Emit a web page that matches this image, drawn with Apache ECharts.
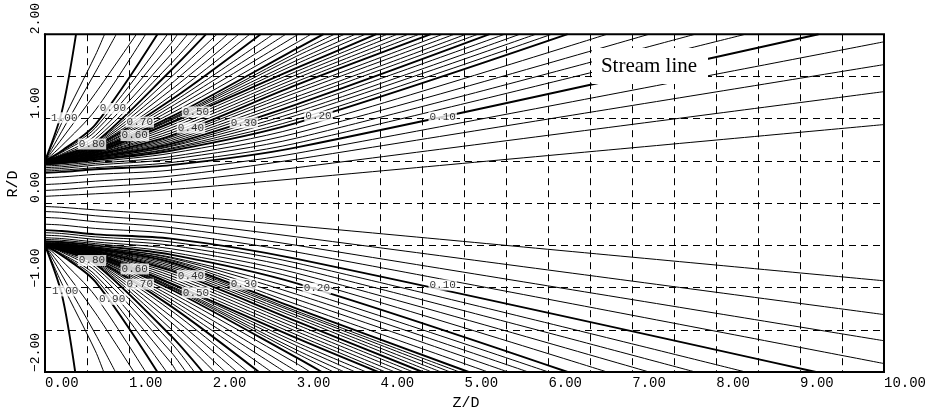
<!DOCTYPE html>
<html>
<head>
<meta charset="utf-8">
<script src="https://cdn.jsdelivr.net/npm/echarts@6/dist/echarts.min.js"></script>
<style>
  html, body { margin: 0; padding: 0; background: #fff; }
  #main { width: 929px; height: 412px; }
</style>
</head>
<body>
<div id="main"></div>
<script>
// stream function value of each line, top (1.00) to the axis (0.02)
const psiLevels = [1.00, 0.98, 0.96, 0.94, 0.92, 0.90, 0.88, 0.86, 0.84, 0.82,
  0.80, 0.78, 0.76, 0.74, 0.72, 0.70, 0.68, 0.66, 0.64, 0.62,
  0.60, 0.58, 0.56, 0.54, 0.52, 0.50, 0.48, 0.46, 0.44, 0.42,
  0.40, 0.38, 0.36, 0.34, 0.32, 0.30, 0.28, 0.26, 0.24, 0.22,
  0.20, 0.18, 0.16, 0.14, 0.12, 0.10, 0.08, 0.06, 0.04, 0.02];

// R/D read at Z/D = 0, 0.2, 0.6, 1.5, 3.0 (null once the line has left the frame)
const stations = [0, 0.2, 0.6, 1.5, 3.0];

// upper half
const upperR0 = [0.50, 0.50, 0.50, 0.50, 0.50, 0.50, 0.50, 0.50, 0.50, 0.50,
  0.50, 0.50, 0.50, 0.50, 0.50, 0.50, 0.50, 0.50, 0.50, 0.50,
  0.50, 0.50, 0.50, 0.50, 0.50, 0.50, 0.50, 0.50, 0.50, 0.50,
  0.49, 0.49, 0.49, 0.49, 0.48, 0.48, 0.48, 0.47, 0.47, 0.46,
  0.46, 0.44, 0.42, 0.40, 0.38, 0.36, 0.30, 0.22, 0.15, 0.08];
const upperR02 = [1.08, 0.95, 0.85, 0.76, 0.68, 0.62, 0.61, 0.60, 0.58, 0.57,
  0.56, 0.56, 0.55, 0.55, 0.54, 0.54, 0.54, 0.53, 0.53, 0.52,
  0.52, 0.52, 0.52, 0.51, 0.51, 0.51, 0.51, 0.51, 0.50, 0.50,
  0.50, 0.50, 0.50, 0.49, 0.49, 0.49, 0.49, 0.48, 0.48, 0.47,
  0.47, 0.45, 0.43, 0.41, 0.39, 0.37, 0.31, 0.23, 0.16, 0.09];
const upperR06 = [null, 1.75, 1.55, 1.30, 1.10, 0.93, 0.89, 0.85, 0.80, 0.76,
  0.72, 0.71, 0.70, 0.69, 0.68, 0.67, 0.66, 0.65, 0.65, 0.64,
  0.63, 0.62, 0.62, 0.61, 0.61, 0.60, 0.59, 0.59, 0.58, 0.58,
  0.57, 0.56, 0.56, 0.55, 0.55, 0.54, 0.53, 0.53, 0.52, 0.52,
  0.51, 0.49, 0.47, 0.45, 0.42, 0.40, 0.34, 0.26, 0.19, 0.11];
const upperR15 = [null, null, null, null, null, null, null, 1.89, 1.76, 1.65,
  1.57, 1.49, 1.41, 1.34, 1.27, 1.22, 1.18, 1.14, 1.10, 1.06,
  1.02, 1.00, 0.99, 0.98, 0.96, 0.95, 0.92, 0.89, 0.86, 0.83,
  0.80, 0.78, 0.76, 0.74, 0.72, 0.70, 0.68, 0.67, 0.65, 0.64,
  0.62, 0.59, 0.55, 0.52, 0.48, 0.45, 0.39, 0.32, 0.25, 0.16];
const upperR3 = [null, null, null, null, null, null, null, null, null, null,
  null, null, null, null, null, null, null, null, null, 1.90,
  1.83, 1.78, 1.74, 1.69, 1.65, 1.60, 1.56, 1.52, 1.48, 1.44,
  1.40, 1.35, 1.31, 1.26, 1.22, 1.17, 1.13, 1.08, 1.04, 0.99,
  0.95, 0.89, 0.83, 0.77, 0.71, 0.66, 0.59, 0.52, 0.42, 0.29];
const upperEndZ = [0.37, 0.71, 0.85, 1.09, 1.20, 1.34, 1.46, 1.58, 1.70, 1.82,
  1.92, 2.05, 2.18, 2.31, 2.44, 2.57, 2.72, 2.87, 3.02, 3.17,
  3.32, 3.45, 3.57, 3.70, 3.82, 3.95, 4.08, 4.20, 4.33, 4.46,
  4.60, 4.74, 4.88, 5.02, 5.16, 5.30, 5.48, 5.66, 5.85, 6.04,
  6.23, 6.70, 7.20, 7.75, 8.35, 9.22, 10, 10, 10, 10];
const upperEndR = [2, 2, 2, 2, 2, 2, 2, 2, 2, 2,
  2, 2, 2, 2, 2, 2, 2, 2, 2, 2,
  2, 2, 2, 2, 2, 2, 2, 2, 2, 2,
  2, 2, 2, 2, 2, 2, 2, 2, 2, 2,
  2, 2, 2, 2, 2, 2, 1.91, 1.64, 1.32, 0.93];

// lower half
const lowerR0 = [-0.50, -0.50, -0.50, -0.50, -0.50, -0.50, -0.50, -0.50, -0.50, -0.50,
  -0.50, -0.50, -0.50, -0.50, -0.50, -0.50, -0.50, -0.50, -0.50, -0.50,
  -0.50, -0.50, -0.50, -0.50, -0.50, -0.50, -0.50, -0.50, -0.50, -0.50,
  -0.49, -0.49, -0.49, -0.49, -0.48, -0.48, -0.48, -0.47, -0.47, -0.46,
  -0.45, -0.43, -0.41, -0.38, -0.35, -0.32, -0.25, -0.17, -0.10, -0.04];
const lowerR02 = [-1.08, -0.95, -0.85, -0.76, -0.68, -0.62, -0.61, -0.60, -0.58, -0.57,
  -0.56, -0.56, -0.55, -0.55, -0.54, -0.54, -0.54, -0.53, -0.53, -0.52,
  -0.52, -0.52, -0.52, -0.51, -0.51, -0.51, -0.51, -0.51, -0.50, -0.50,
  -0.50, -0.50, -0.50, -0.49, -0.49, -0.49, -0.49, -0.48, -0.48, -0.47,
  -0.46, -0.44, -0.42, -0.39, -0.36, -0.33, -0.26, -0.18, -0.11, -0.05];
const lowerR06 = [null, -1.75, -1.55, -1.30, -1.10, -0.93, -0.89, -0.85, -0.80, -0.76,
  -0.72, -0.71, -0.70, -0.69, -0.68, -0.67, -0.66, -0.65, -0.65, -0.64,
  -0.63, -0.62, -0.62, -0.61, -0.61, -0.60, -0.59, -0.59, -0.58, -0.58,
  -0.57, -0.56, -0.56, -0.55, -0.55, -0.54, -0.53, -0.53, -0.52, -0.52,
  -0.50, -0.48, -0.46, -0.43, -0.40, -0.37, -0.30, -0.22, -0.15, -0.08];
const lowerR15 = [null, null, null, null, null, null, null, -1.89, -1.76, -1.65,
  -1.57, -1.49, -1.41, -1.34, -1.27, -1.22, -1.18, -1.14, -1.10, -1.06,
  -1.02, -1.00, -0.99, -0.98, -0.96, -0.95, -0.92, -0.89, -0.86, -0.83,
  -0.80, -0.78, -0.76, -0.74, -0.72, -0.70, -0.68, -0.67, -0.65, -0.64,
  -0.61, -0.58, -0.54, -0.50, -0.46, -0.42, -0.36, -0.29, -0.22, -0.14];
const lowerR3 = [null, null, null, null, null, null, null, null, null, null,
  null, null, null, null, null, null, null, null, null, -1.90,
  -1.83, -1.78, -1.74, -1.69, -1.65, -1.60, -1.56, -1.52, -1.48, -1.44,
  -1.40, -1.36, -1.33, -1.30, -1.28, -1.25, -1.20, -1.14, -1.08, -1.02,
  -0.95, -0.89, -0.83, -0.77, -0.71, -0.66, -0.58, -0.50, -0.40, -0.27];
const lowerEndZ = [0.36, 0.70, 0.84, 1.06, 1.20, 1.34, 1.45, 1.57, 1.68, 1.78,
  1.88, 2.02, 2.15, 2.29, 2.42, 2.55, 2.70, 2.86, 3.01, 3.16,
  3.30, 3.44, 3.57, 3.70, 3.83, 3.97, 4.06, 4.17, 4.28, 4.39,
  4.50, 4.61, 4.72, 4.83, 4.94, 5.05, 5.28, 5.52, 5.76, 6.00,
  6.23, 6.70, 7.20, 7.75, 8.35, 9.19, 10, 10, 10, 10];
const lowerEndR = [-2, -2, -2, -2, -2, -2, -2, -2, -2, -2,
  -2, -2, -2, -2, -2, -2, -2, -2, -2, -2,
  -2, -2, -2, -2, -2, -2, -2, -2, -2, -2,
  -2, -2, -2, -2, -2, -2, -2, -2, -2, -2,
  -2, -2, -2, -2, -2, -2, -1.90, -1.63, -1.32, -0.92];

// contour labels
const labelText = ["1.00", "0.90", "0.80", "0.70", "0.60", "0.50", "0.40", "0.30", "0.20", "0.10"];
const upperLabelZ = [0.23, 0.81, 0.56, 1.13, 1.07, 1.80, 1.74, 2.37, 3.26, 4.74];
const upperLabelR = [1.01, 1.12, 0.70, 0.96, 0.80, 1.08, 0.89, 0.95, 1.03, 1.02];
const lowerLabelZ = [0.24, 0.80, 0.56, 1.13, 1.07, 1.80, 1.74, 2.37, 3.24, 4.74];
const lowerLabelR = [-1.04, -1.14, -0.68, -0.96, -0.78, -1.06, -0.86, -0.96, -1.01, -0.97];

const monoFont = "'Liberation Mono', 'DejaVu Sans Mono', monospace";

function buildLines(r0, r02, r06, r15, r3, endZ, endR) {
  const out = [];
  psiLevels.forEach((psi, i) => {
    const cols = [r0[i], r02[i], r06[i], r15[i], r3[i]];
    const pts = [];
    stations.forEach((z, k) => {
      if (cols[k] !== null && z < endZ[i]) pts.push([z, cols[k]]);
    });
    pts.push([endZ[i], endR[i]]);
    const thick = Math.abs(psi * 10 - Math.round(psi * 10)) < 1e-6;
    out.push({
      type: "line",
      data: pts,
      showSymbol: false,
      smooth: 0.3,
      silent: true,
      clip: true,
      z: 2,
      lineStyle: { color: "#000", width: thick ? 1.9 : 1 },
    });
  });
  return out;
}

function labelData(zs, rs) {
  return labelText.map((t, i) => ({ name: t, value: [zs[i], rs[i]] }));
}

const seriesList = [
  ...buildLines(upperR0, upperR02, upperR06, upperR15, upperR3, upperEndZ, upperEndR),
  ...buildLines(lowerR0, lowerR02, lowerR06, lowerR15, lowerR3, lowerEndZ, lowerEndR),
  {
    type: "scatter",
    symbolSize: 0,
    silent: true,
    z: 5,
    data: [...labelData(upperLabelZ, upperLabelR), ...labelData(lowerLabelZ, lowerLabelR)],
    label: {
      show: true,
      position: "inside",
      formatter: "{b}",
      fontFamily: monoFont,
      fontSize: 11,
      color: "#000",
      backgroundColor: "#fff",
      padding: [0, 1],
    },
  },
];

const isWhole = (v) => Math.abs(v - Math.round(v)) < 1e-9;

const chart = echarts.init(document.getElementById("main"));
chart.setOption({
  animation: false,
  backgroundColor: "#fff",
  grid: {
    left: 45, right: 41, top: 33, bottom: 40,
    show: true, borderColor: "#000", borderWidth: 2,
  },
  xAxis: {
    type: "value",
    min: 0, max: 10, interval: 0.5,
    axisLine: { show: true, onZero: false, lineStyle: { color: "#000", width: 2 } },
    axisTick: { show: false },
    axisLabel: {
      formatter: (v) => (isWhole(v) ? v.toFixed(2) : ""),
      align: "left",
      margin: 4,
      fontFamily: monoFont,
      fontSize: 14,
      color: "#000",
    },
    splitLine: { show: true, lineStyle: { type: [7, 5], color: "#000", width: 1 } },
  },
  yAxis: {
    type: "value",
    min: -2, max: 2, interval: 0.5,
    axisLine: { show: true, onZero: false, lineStyle: { color: "#000", width: 2 } },
    axisTick: { show: false },
    axisLabel: {
      formatter: (v) => (isWhole(v) ? (v < 0 ? "\u2212" : "") + Math.abs(v).toFixed(2) : ""),
      rotate: 90,
      align: "left",
      verticalAlign: "bottom",
      margin: 3,
      fontFamily: monoFont,
      fontSize: 13,
      color: "#000",
    },
    splitLine: { show: true, lineStyle: { type: [7, 5], color: "#000", width: 1 } },
  },
  graphic: [
    {
      type: "rect", z: 100,
      shape: { x: 592, y: 48, width: 116, height: 36 },
      style: { fill: "#fff" },
    },
    {
      type: "text", z: 101, x: 649, y: 66,
      style: {
        text: "Stream line", fill: "#000",
        font: "21px 'Liberation Serif', serif",
        textAlign: "center", textVerticalAlign: "middle",
      },
    },
    {
      type: "text", z: 101, x: 466, y: 403,
      style: {
        text: "Z/D", fill: "#000", font: "15px " + monoFont,
        textAlign: "center", textVerticalAlign: "middle",
      },
    },
    {
      type: "text", z: 101, x: 13, y: 184, rotation: Math.PI / 2,
      style: {
        text: "R/D", fill: "#000", font: "15px " + monoFont,
        textAlign: "center", textVerticalAlign: "middle",
      },
    },
  ],
  series: seriesList,
});
</script>
</body>
</html>
